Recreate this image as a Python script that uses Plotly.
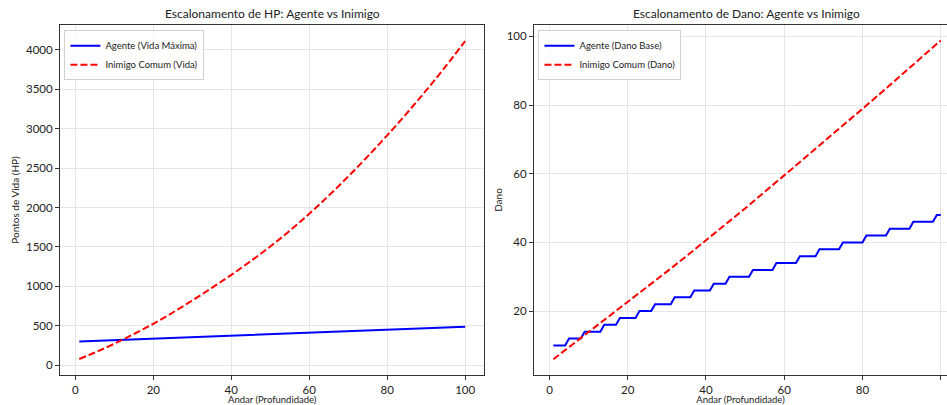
import plotly.graph_objects as go

# ---- data ----
floors_hp = [1, 5, 10, 15, 20, 25, 30, 35, 40, 45, 50, 55, 60, 65, 70, 75, 80, 85, 90, 95, 100]
agent_hp = [300, 308, 318, 327, 336, 346, 355, 365, 374, 384, 393, 403, 412, 422, 431, 441, 450, 460, 469, 479, 488]
enemy_hp = [78, 160, 272, 395, 525, 668, 820, 980, 1145, 1320, 1505, 1705, 1920, 2150, 2393, 2648, 2915, 3194, 3485, 3790, 4110]

floors_dmg = list(range(1, 101))
agent_dmg = [10, 10, 10, 10, 12, 12, 12, 12, 14, 14,
             14, 14, 14, 16, 16, 16, 16, 18, 18, 18,
             18, 18, 20, 20, 20, 20, 22, 22, 22, 22,
             22, 24, 24, 24, 24, 24, 26, 26, 26, 26,
             26, 28, 28, 28, 28, 30, 30, 30, 30, 30,
             30, 32, 32, 32, 32, 32, 32, 34, 34, 34,
             34, 34, 34, 36, 36, 36, 36, 36, 38, 38,
             38, 38, 38, 38, 40, 40, 40, 40, 40, 40,
             42, 42, 42, 42, 42, 42, 44, 44, 44, 44,
             44, 44, 46, 46, 46, 46, 46, 46, 48, 48]
floors_edmg = [1, 5, 10, 15, 20, 25, 30, 35, 40, 45, 50, 55, 60, 65, 70, 75, 80, 85, 90, 95, 100]
enemy_dmg = [6.0, 9.5, 13.8, 18.2, 22.6, 27.0, 31.5, 36.0, 40.6, 45.2, 49.9, 54.7, 59.5, 64.3, 69.1, 74.0, 78.9, 83.8, 88.8, 93.8, 98.8]

titles = ["Escalonamento de HP: Agente vs Inimigo", "Escalonamento de Dano: Agente vs Inimigo"]
x_title = "Andar (Profundidade)"
y_titles = ["Pontos de Vida (HP)", "Dano"]

FONT = "Lato"
DASH = "7px,3px"

fig = go.Figure()
fig.add_trace(go.Scatter(x=floors_hp, y=agent_hp, mode="lines", name="Agente (Vida Máxima)",
                         line=dict(color="blue", width=2), xaxis="x", yaxis="y", legend="legend"))
fig.add_trace(go.Scatter(x=floors_hp, y=enemy_hp, mode="lines", name="Inimigo Comum (Vida)",
                         line=dict(color="red", width=2, dash=DASH, shape="spline"), xaxis="x", yaxis="y", legend="legend"))
fig.add_trace(go.Scatter(x=floors_dmg, y=agent_dmg, mode="lines", name="Agente (Dano Base)",
                         line=dict(color="blue", width=2), xaxis="x2", yaxis="y2", legend="legend2"))
fig.add_trace(go.Scatter(x=floors_edmg, y=enemy_dmg, mode="lines", name="Inimigo Comum (Dano)",
                         line=dict(color="red", width=2, dash=DASH), xaxis="x2", yaxis="y2", legend="legend2"))

ax_common = dict(showgrid=True, gridcolor="#e6e6e6", gridwidth=1, zeroline=False,
                 showline=True, linecolor="#333333", linewidth=1,
                 ticks="outside", ticklen=4, tickcolor="#333333",
                 tickfont=dict(family=FONT, size=11.5, color="#222222"))

L0, L1 = 0.0, 0.4785
R0, R1 = 0.5344, 1.0

legend_common = dict(xanchor="left", yanchor="top", bgcolor="rgba(255,255,255,0.8)",
                     bordercolor="#d0d0d0", borderwidth=1, font=dict(family=FONT, size=9.5, color="#222222"),
                     tracegroupgap=0, itemwidth=30)

fig.update_layout(
    width=947, height=405,
    margin=dict(l=60, r=0, t=25, b=30),
    paper_bgcolor="white", plot_bgcolor="white",
    font=dict(family=FONT, color="#222222"),
    xaxis=dict(domain=[L0, L1], range=[-3.95, 104.95], tickvals=[0, 20, 40, 60, 80, 100],
               mirror=True, anchor="y",
               title=dict(text=x_title, font=dict(size=9.5, family=FONT), standoff=3), **ax_common),
    yaxis=dict(domain=[0, 1], range=[-125, 4315], tickvals=[0, 500, 1000, 1500, 2000, 2500, 3000, 3500, 4000],
               mirror=True, anchor="x",
               title=dict(text=y_titles[0], font=dict(size=10, family=FONT), standoff=4), **ax_common),
    xaxis2=dict(domain=[R0, R1], range=[-3.95, 101.6], tickvals=[0, 20, 40, 60, 80, 100],
                mirror=True, anchor="y2",
                title=dict(text=x_title, font=dict(size=9.5, family=FONT), standoff=3), **ax_common),
    yaxis2=dict(domain=[0, 1], range=[1.4, 103.3], tickvals=[20, 40, 60, 80, 100],
                mirror=False, anchor="x2",
                title=dict(text=y_titles[1], font=dict(size=10, family=FONT), standoff=2), **ax_common),
    legend=dict(x=0.005, y=0.985, **legend_common),
    legend2=dict(x=R0 + 0.005, y=0.985, **legend_common),
    annotations=[
        dict(text=titles[0], x=0.2396, y=1, xref="paper", yref="paper", xanchor="center",
             yanchor="bottom", yshift=2, showarrow=False, font=dict(family=FONT, size=12, color="#222222")),
        dict(text=titles[1], x=0.7745, y=1, xref="paper", yref="paper", xanchor="center",
             yanchor="bottom", yshift=2, showarrow=False, font=dict(family=FONT, size=12, color="#222222")),
    ],
)

fig.write_html("out.html", config={"displayModeBar": False},
               post_script="document.body.style.margin='0';document.body.style.overflow='hidden';")
